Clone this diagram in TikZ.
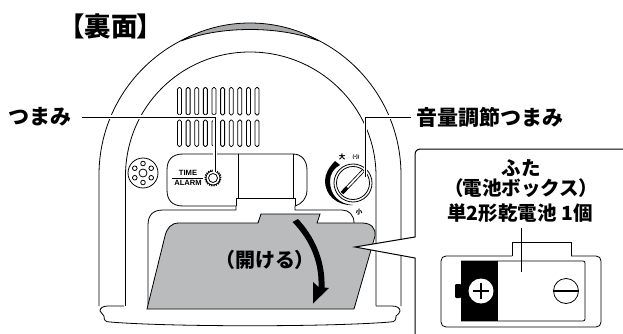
\documentclass[tikz,border=0pt]{standalone}
\usepackage{fontspec}
\usetikzlibrary{calc}
\newfontfamily\jpfont{Noto Sans CJK JP}
\newfontfamily\jppalt[RawFeature=+palt]{Noto Sans CJK JP}
\setsansfont{Liberation Sans}
\definecolor{covergray}{HTML}{B9BBBD}
\definecolor{bandgray}{HTML}{A9AAAB}
\begin{document}
\begin{tikzpicture}[
    x=1pt,
    y=-1pt,
    line width=0.8pt,
    every node/.style={
      inner sep=0pt
    },
    lbl/.style={
      font=\jpfont\bfseries\fontsize{21}{21}\selectfont
    },
    boxlbl/.style={
      font=\jpfont\bfseries\fontsize{19.5}{20}\selectfont
    },
    panellbl/.style={
      font=\sffamily\bfseries\fontsize{7.6}{8}\selectfont
    },
    tinylbl/.style={
      font=\jpfont\bfseries\fontsize{6.5}{7}\selectfont
    },
    leader/.style={
      preaction={draw=white, line width=3.5pt}
    }
  ]
    \useasboundingbox (0, 0) rectangle (623, 334);

    \draw (99, 306) -- (99, 175) .. controls (99, 91.6) and (166.6, 24) .. (250, 24)
      .. controls (333.4, 24) and (401, 91.6) .. (401, 175) -- (401, 306);
    \draw (125.5, 306) -- (125.5, 176) .. controls (125.5, 107) and (181, 52) .. (250, 52)
      .. controls (319, 52) and (376, 107) .. (376, 176) -- (376, 306);
    \draw[fill=bandgray] (181, 41) .. controls (202, 29) and (226, 23) .. (250, 23)
      .. controls (274, 23) and (298, 29) .. (319, 41)
      .. controls (298, 33) and (274, 29.5) .. (250, 29.5)
      .. controls (226, 29.5) and (202, 33) .. (181, 41) -- cycle;
    \draw[fill=white] (124, 306) -- (108, 306) .. controls (103, 306) and (100, 308) .. (100, 311)
      .. controls (101, 313) and (103, 314) .. (104, 316) .. controls (104, 320) and (105, 322) .. (110, 322)
      .. controls (170, 327) and (330, 327) .. (390, 322) .. controls (395, 322) and (396, 320) .. (396, 316)
      .. controls (398, 314) and (400, 313) .. (400, 311) .. controls (400, 308) and (397, 306) .. (392, 306)
      -- (376, 306);

    \foreach \col in {0,...,9} {
      \draw[rounded corners=1.6pt] ({177.5+8.62*\col}, 87.5) rectangle ({181.5+8.62*\col}, 115);
      \draw[rounded corners=1.6pt] ({177.5+8.62*\col}, 120) rectangle ({181.5+8.62*\col}, 146.5);
    }

    \node[draw, circle, minimum size=30pt] (speaker) at (143, 173) {};
    \node[draw, circle, minimum size=8pt] (speaker_c) at (143, 173) {};
    \foreach \ang in {30,90,150,210,270,330} {
      \draw (speaker) ++({9.5*cos(\ang)}, {9.5*sin(\ang)}) circle (2.3);
    }

    \draw (238, 154) -- (238, 198);
    \draw (293, 154) -- (293, 198);
    \draw (236, 206) -- (183, 206) .. controls (172, 206) and (167, 200) .. (167, 190)
      -- (167, 170) .. controls (167, 160) and (172, 154) .. (183, 154)
      -- (293, 154) .. controls (302, 154) and (307, 161) .. (307, 170)
      -- (307, 190) .. controls (307, 198) and (302, 204) .. (295, 206);
    \draw (236, 206) -- (236, 198) -- (295, 198) -- (295, 206);
    \draw (148, 309) -- (148, 225) .. controls (148, 215) and (153, 210) .. (163, 210)
      -- (236, 210) -- (236, 206);
    \draw (295, 206) -- (295, 210) -- (342, 210) .. controls (349, 210) and (354, 215) .. (354, 223);

    \node[panellbl] (lbl_time) at (188, 172.5) {TIME};
    \node[panellbl] (lbl_alarm) at (188, 183) {ALARM};
    \draw (172, 178) -- (203, 178);
    \node[draw, circle, line width=1.5pt, dash pattern=on 1.2pt off 1.1pt, minimum size=15.5pt] (knob_teeth) at (213, 178) {};
    \node[draw, circle, minimum size=14pt] (knob_rim) at (213, 178) {};
    \node[draw, circle, minimum size=9pt] (knob_hole) at (213, 178) {};

    \fill (335, 161) .. controls (329, 167) and (325, 174) .. (325, 181)
      .. controls (325, 195) and (337, 206) .. (353, 205)
      .. controls (339, 204) and (330, 195) .. (330, 181)
      .. controls (330, 174) and (334, 168) .. (340, 165) -- cycle;
    \node[draw, circle, minimum size=38pt] (dial_out) at (353, 183) {};
    \node[draw, circle, minimum size=33pt] (dial_in) at (353, 183) {};
    \coordinate (dial_a) at (342, 193);
    \coordinate (dial_b) at (363, 171);
    \draw[line width=3.4pt] (dial_a) to (dial_b);
    \draw[line width=1.8pt, white] (dial_a) to (dial_b);
    \draw[line width=3.4pt] (dial_a) to ($(dial_a)!0.25!(dial_b)$);
    \node[tinylbl] (lbl_big) at (342, 157) {大};
    \node[tinylbl] (lbl_small) at (359, 212) {小};
    \node[font=\sffamily\bfseries\fontsize{5}{5}\selectfont] (lbl_sound) at (356, 157) {(\textbullet))};

    \draw[fill=covergray] (147, 309) -- (165, 236) .. controls (167, 228) and (171, 223) .. (179, 223)
      -- (258, 223) -- (261, 214) -- (320, 214) -- (317, 223) -- (362, 223)
      .. controls (371, 223) and (376, 228) .. (375, 236) -- (354, 309) -- cycle;
    \fill (292.5, 222) .. controls (310, 240) and (319.5, 262) .. (318.5, 287)
      -- (313, 282) -- (313, 303.5) -- (329, 288) -- (324.5, 287.5)
      .. controls (325.5, 260) and (314, 236) .. (298, 219) -- cycle;
    \node[font=\jppalt\bfseries\fontsize{20}{20}\selectfont] (lbl_open) at (265, 260) {（\jpfont 開ける\jppalt ）};

    \draw[line width=1pt, fill=white] (623, 149) -- (421, 149) .. controls (417, 149) and (415, 151) .. (415, 155)
      -- (415, 237) -- (355, 247) -- (415, 258) -- (415, 334);

    \draw (512, 256) -- (446, 256) .. controls (443, 256) and (441, 258) .. (441, 261)
      -- (441, 322) .. controls (441, 325) and (443, 327) .. (446, 327)
      -- (596, 327) .. controls (599, 327) and (601, 325) .. (601, 322)
      -- (601, 261) .. controls (601, 258) and (599, 256) .. (596, 256) -- (571, 256);
    \draw (512, 256) -- (512, 242) -- (571, 242) -- (571, 256);
    \draw[rounded corners=2pt] (461, 261) -- (585, 261) -- (585, 321) -- (461, 321);
    \fill (461, 261) rectangle (498, 321);
    \fill[rounded corners=1pt] (461, 284) -- (455, 284) -- (455, 298) -- (461, 298) -- cycle;
    \node[fill=white, circle, minimum size=25pt] (plus_c) at (481, 291) {};
    \draw[line width=1.6pt] (473, 291) -- (489, 291);
    \draw[line width=1.6pt] (481, 283) -- (481, 299);
    \node[draw, circle, minimum size=25pt] (minus_c) at (566, 291) {};
    \draw[line width=1.6pt] (minus_c.west) -- (minus_c.east);

    \coordinate (batt_top) at (521, 228);
    \coordinate (batt_end) at (521, 272);
    \draw (batt_top) to (batt_end);

    \node[font=\jppalt\bfseries\fontsize{26.5}{26}\selectfont] (lbl_title) at (111, 26) {【裏面】};
    \node[lbl] (lbl_knob) at (40, 117) {つまみ};
    \node[lbl] (lbl_vol) at (489.5, 117) {音量調節つまみ};
    \node[boxlbl] (lbl_lid) at (521, 168) {ふた};
    \node[boxlbl] (lbl_box) at (521, 188) {\jppalt （\jpfont 電池ボックス\jppalt ）};
    \node[boxlbl] (lbl_cell) at (520, 213) {単2形乾電池 1個};

    \coordinate (knob_from) at (82, 117);
    \coordinate (knob_bend) at (215, 117);
    \coordinate (knob_end) at (215, 172);
    \draw[leader] (knob_from) -- (knob_bend) -- (knob_end);
    \coordinate (vol_from) at (411, 117);
    \coordinate (vol_bend) at (365.5, 117);
    \coordinate (vol_end) at (365.5, 177);
    \draw[leader] (vol_from) -- (vol_bend) -- (vol_end);

  \end{tikzpicture}
\end{document}
